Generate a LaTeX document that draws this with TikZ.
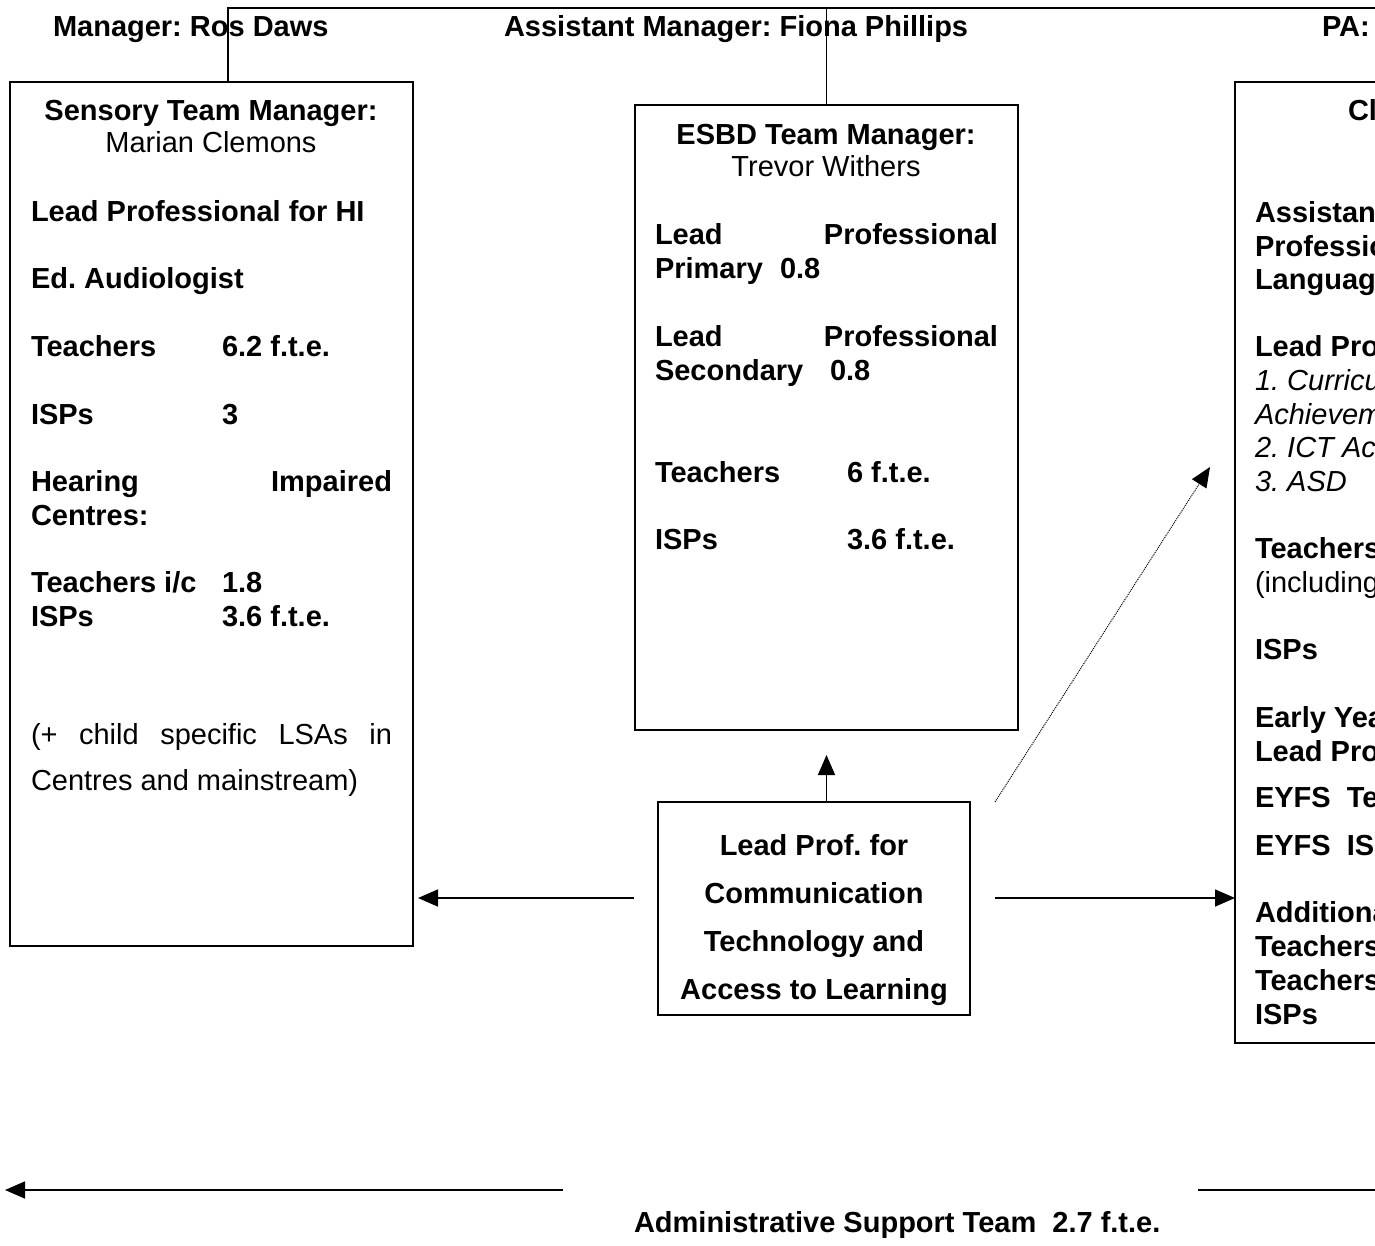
\documentclass[tikz,border=0pt]{standalone}
\usepackage{fontspec}
\setmainfont{Liberation Sans}
\usetikzlibrary{arrows.meta}
\newcommand\fs{\fontsize{29}{34}\selectfont}
\frenchspacing
\begin{document}
\frenchspacing
\begin{tikzpicture}[x=1pt,y=-1pt,
  every node/.style={font=\fs},
  txt/.style={anchor=base west, inner sep=0pt, outer sep=0pt},
  ctxt/.style={anchor=base, inner sep=0pt, outer sep=0pt},
  box/.style={draw, line width=1.6pt, anchor=north west, inner sep=0pt, outer sep=0pt},
  conn/.style={line width=1.6pt},
  arr/.style={conn, -{Triangle[length=20pt,width=17pt]}},
  dotarr/.style={line width=1pt, densely dotted, -{Triangle[length=20pt,width=17pt]}}]
\useasboundingbox (0,0) rectangle (1375,1246);
\clip (0,0) rectangle (1375,1246);
\fill[white] (0,0) rectangle (1375,1246);

% header
\node[txt] (h1) at (53,37) {\bfseries Manager: Ros Daws};
\node[txt] (h2) at (504,37) {\bfseries Assistant Manager: Fiona Phillips};
\node[txt] (h3) at (1322,37) {\bfseries PA:};

% boxes
\node[box, minimum width=403pt, minimum height=864pt] (sens) at (10,82) {};
\node[box, minimum width=383pt, minimum height=625pt] (esbd) at (635,105) {};
\node[box, minimum width=200pt, minimum height=961pt] (cl) at (1235,82) {};
\node[box, minimum width=312pt, minimum height=213pt] (lp) at (658,802) {};

% tree lines
\coordinate (topR) at (1375,8);
\draw[conn] ([xshift=16.5pt]sens.north) |- (topR);
\draw[conn] (esbd.north) -- (esbd.north |- topR);

% sensory box
\node[ctxt] (s0) at (211,121) {\bfseries Sensory Team Manager:};
\node[ctxt] (s0b) at (211,153) {Marian Clemons};
\node[txt] (s1) at (31,222) {\bfseries Lead Professional for HI};
\node[txt] (s2) at (31,289) {\bfseries Ed. Audiologist};
\node[txt] (s3) at (31,356) {\bfseries Teachers};
\node[txt] (s3b) at (222,356) {\bfseries 6.2 f.t.e.};
\node[txt] (s4) at (31,424) {\bfseries ISPs};
\node[txt] (s4b) at (222,424) {\bfseries 3};
\node[txt] (s5) at (31,491) {\bfseries\makebox[361pt]{Hearing\hfill Impaired}};
\node[txt] (s6) at (31,525) {\bfseries Centres:};
\node[txt] (s7) at (31,592) {\bfseries Teachers i/c};
\node[txt] (s7b) at (222,592) {\bfseries 1.8};
\node[txt] (s8) at (31,626) {\bfseries ISPs};
\node[txt] (s8b) at (222,626) {\bfseries 3.6 f.t.e.};
\node[txt] (s9) at (31,744) {\makebox[361pt][s]{(+ child specific LSAs in}};
\node[txt] (s10) at (31,790) {Centres and mainstream)};

% ESBD box
\node[ctxt] (e0) at (826,145) {\bfseries ESBD Team Manager:};
\node[ctxt] (e0b) at (826,177) {Trevor Withers};
\node[txt] (e1) at (655,245) {\bfseries\makebox[343pt]{Lead\hfill Professional}};
\node[txt] (e2) at (655,279) {\bfseries Primary};
\node[txt] (e2b) at (780,279) {\bfseries 0.8};
\node[txt] (e3) at (655,346) {\bfseries\makebox[343pt]{Lead\hfill Professional}};
\node[txt] (e4) at (655,380) {\bfseries Secondary};
\node[txt] (e4b) at (830,380) {\bfseries 0.8};
\node[txt] (e5) at (655,482) {\bfseries Teachers};
\node[txt] (e5b) at (847,482) {\bfseries 6 f.t.e.};
\node[txt] (e6) at (655,549) {\bfseries ISPs};
\node[txt] (e6b) at (847,549) {\bfseries 3.6 f.t.e.};

% right box
\node[txt] (r0) at (1348,121) {\bfseries Cl};
\node[txt] (r1) at (1255,223) {\bfseries Assistan};
\node[txt] (r2) at (1255,257) {\bfseries Professio};
\node[txt] (r3) at (1255,290) {\bfseries Languag};
\node[txt] (r4) at (1255,356) {\bfseries Lead Pro};
\node[txt] (r5) at (1255,390) {\itshape 1. Curricu};
\node[txt] (r6) at (1255,424) {\itshape Achievem};
\node[txt] (r7) at (1255,457) {\itshape 2. ICT Ac};
\node[txt] (r8) at (1255,491) {\itshape 3. ASD};
\node[txt] (r9) at (1255,558) {\bfseries Teachers};
\node[txt] (r10) at (1255,592) {(including};
\node[txt] (r11) at (1255,659) {\bfseries ISPs};
\node[txt] (r12) at (1255,727) {\bfseries Early Yea};
\node[txt] (r13) at (1255,761) {\bfseries Lead Pro};
\node[txt] (r14) at (1255,807) {\bfseries EYFS\ \ Te};
\node[txt] (r15) at (1255,855) {\bfseries EYFS\ \ IS};
\node[txt] (r16) at (1255,922) {\bfseries Additiona};
\node[txt] (r17) at (1255,956) {\bfseries Teachers};
\node[txt] (r18) at (1255,990) {\bfseries Teachers};
\node[txt] (r19) at (1255,1024) {\bfseries ISPs};

% central box text
\node[ctxt] (c1) at (814,855) {\bfseries Lead Prof. for};
\node[ctxt] (c2) at (814,903) {\bfseries Communication};
\node[ctxt] (c3) at (814,951) {\bfseries Technology and};
\node[ctxt] (c4) at (814,999) {\bfseries Access to Learning};

% connectors
\coordinate (la) at (634,898);
\draw[arr, shorten >=5pt] (la) -- (sens.east |- la);
\coordinate (ra) at (995,898);
\draw[arr] (ra) -- (cl.west |- ra);
\draw[arr, shorten >=25pt] (lp.north -| esbd.south) -- (esbd.south);
\coordinate (dA) at (995,802);
\coordinate (dB) at (1210,467);
\draw[dotarr] (dA) -- (dB);

% bottom
\node[txt] (adm) at (634,1232) {\bfseries Administrative Support Team\ \ 2.7 f.t.e.};
\coordinate (bs) at (563,1190);
\coordinate (bl) at (5,1190);
\draw[arr] (bs) -- (bl);
\coordinate (be) at (1198,1190);
\coordinate (br) at (1375,1190);
\draw[conn] (be) -- (br);
\end{tikzpicture}
\end{document}
